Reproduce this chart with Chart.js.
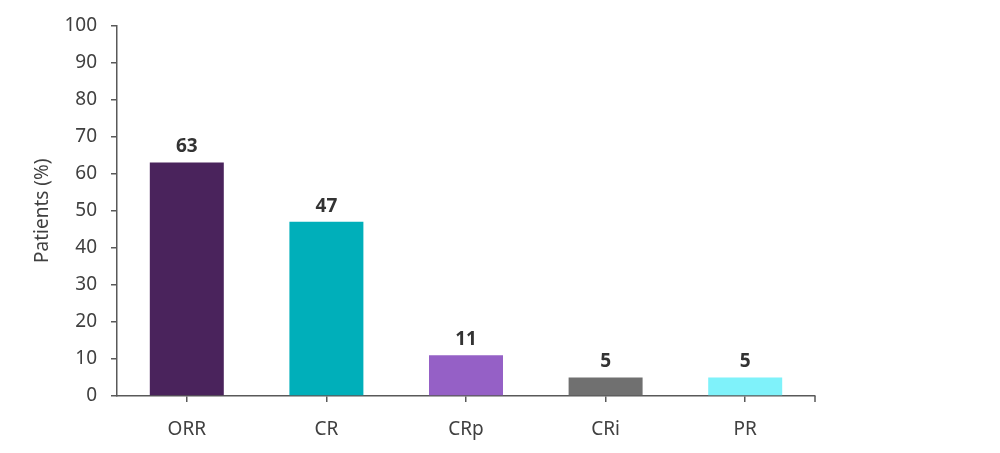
<!DOCTYPE html>
<html>
<head>
<meta charset="utf-8">
<script src="https://cdn.jsdelivr.net/npm/chart.js@4"></script>
<style>
  html, body { margin: 0; padding: 0; background: #fff; }
  #wrap { width: 1000px; height: 453px; }
</style>
</head>
<body>
<div id="wrap"><canvas id="chart" width="1000" height="453"></canvas></div>
<script>
const categories = ['ORR', 'CR', 'CRp', 'CRi', 'PR'];
const patientPct = [63, 47, 11, 5, 5];
const barColors = ['#4A235C', '#00AFBA', '#9560C6', '#707070', '#7FF2FA'];
const yTicks = [0, 10, 20, 30, 40, 50, 60, 70, 80, 90, 100];

Chart.defaults.font.family = '"Noto Sans", "Open Sans", sans-serif';
Chart.defaults.color = '#404040';

// value labels above each bar
const valueLabels = {
    id: 'valueLabels',
    afterDatasetsDraw(chart) {
        const ctx = chart.ctx;
        const meta = chart.getDatasetMeta(0);
        ctx.save();
        ctx.font = 'bold 19px "Noto Sans", sans-serif';
        ctx.fillStyle = '#333333';
        ctx.textAlign = 'center';
        ctx.textBaseline = 'bottom';
        meta.data.forEach((bar, i) => {
            ctx.fillText(String(patientPct[i]), bar.x, bar.y - 6);
        });
        ctx.restore();
    }
};

// small tick at the right end of the x axis
const axisEndTick = {
    id: 'axisEndTick',
    afterDraw(chart) {
        const { ctx, chartArea } = chart;
        ctx.save();
        ctx.strokeStyle = '#595959';
        ctx.lineWidth = 1.5;
        ctx.beginPath();
        ctx.moveTo(chartArea.right, chartArea.bottom);
        ctx.lineTo(chartArea.right, chartArea.bottom + 6);
        ctx.stroke();
        ctx.restore();
    }
};

new Chart(document.getElementById('chart').getContext('2d'), {
    type: 'bar',
    data: {
        labels: categories,
        datasets: [{ data: patientPct, backgroundColor: barColors, borderWidth: 0,
                     categoryPercentage: 1.0, barPercentage: 0.53 }]
    },
    options: {
        responsive: false,
        animation: false,
        layout: { padding: { top: 25, right: 185, bottom: 0, left: 31 } },
        plugins: { legend: { display: false }, tooltip: { enabled: false } },
        scales: {
            x: {
                grid: { display: true, drawOnChartArea: false, offset: false, tickLength: 6, color: '#595959', lineWidth: 1.5 },
                border: { display: true, color: '#595959', width: 1.5 },
                ticks: { font: { size: 19 }, color: '#404040', padding: 16 },
                afterFit: s => { s.height = 57; }
            },
            y: {
                min: 0, max: 100,
                afterBuildTicks: s => { s.ticks = yTicks.map(v => ({ value: v })); },
                grid: { display: true, drawOnChartArea: false, tickLength: 6, color: '#595959', lineWidth: 1.5 },
                border: { display: true, color: '#595959', width: 1.5 },
                ticks: { font: { size: 19 }, color: '#404040', padding: 14 },
                title: { display: true, text: 'Patients (%)', font: { size: 19 }, color: '#404040', padding: 0 },
                afterFit: s => { s.width = 86; }
            }
        }
    },
    plugins: [valueLabels, axisEndTick]
});
</script>
</body>
</html>
